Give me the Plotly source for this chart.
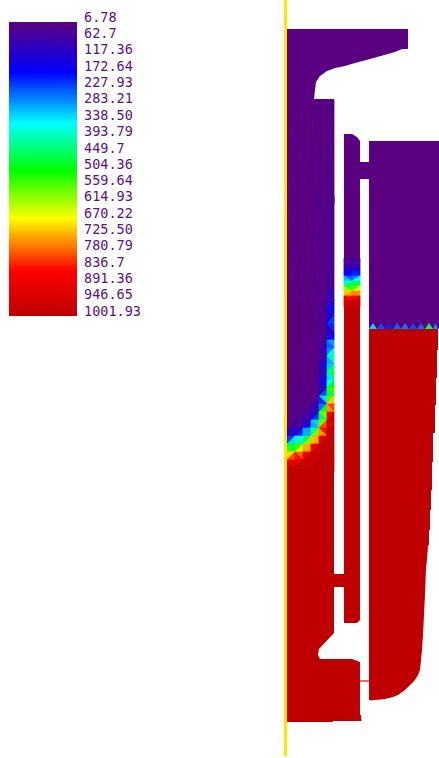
import plotly.graph_objects as go

# Legend
legend_values = [6.78, 62.7, 117.36, 172.64, 227.93, 283.21, 338.50, 393.79, 449.7, 504.36,
                 559.64, 614.93, 670.22, 725.50, 780.79, 836.7, 891.36, 946.65, 1001.93]
legend_labels = ["6.78", "62.7", "117.36", "172.64", "227.93", "283.21", "338.50", "393.79", "449.7", "504.36",
                 "559.64", "614.93", "670.22", "725.50", "780.79", "836.7", "891.36", "946.65", "1001.93"]
scale_stops = [(0.0, (90, 0, 128)), (0.17, (0, 0, 255)), (0.344, (0, 255, 255)), (0.503, (0, 255, 0)),
               (0.667, (255, 255, 0)), (0.844, (255, 0, 0)), (1.0, (190, 0, 0))]

# Geometry outlines (image pixel data space)
left_top_x = [287, 408, 408, 402, 395, 385, 370, 355, 345, 335, 327, 320, 316, 315, 314, 334, 334, 287]
left_top_y = [29, 29, 49, 49, 52, 55, 59, 63, 66, 68, 71, 76, 82, 90, 99, 99, 110, 110]
left_bot_x = [287, 334, 334, 344, 344, 334, 334, 319, 318, 320, 352, 360, 360, 361, 361.5, 333, 333, 287]
left_bot_y = [470, 470, 574, 574, 587, 587, 633, 649, 655, 659, 659, 662, 715, 715, 721, 721, 722, 722]
mid_top_x = [344, 352, 357, 360, 360, 344]
mid_top_y = [134, 134, 137, 141, 260, 260]
mid_bot_x = [344, 360, 360, 357, 344]
mid_bot_y = [305, 305, 620, 623, 623]
right_top_x = [369, 439, 439, 369, 369, 360, 360, 369]
right_top_y = [141, 141, 329, 329, 179, 179, 162, 162]
right_bot_x = [369, 438, 438, 437, 437, 436, 436, 435, 435, 433, 433, 432, 432, 431, 431, 430, 430, 429, 429, 428, 427,
               426, 425, 424, 423, 422, 421, 420, 418, 415, 410, 405, 398, 393, 385, 378, 370, 370, 369]
right_bot_y = [329, 329, 350, 350, 378, 378, 405, 405, 433, 433, 462, 462, 490, 490, 510, 510, 530, 530, 545, 545, 560,
               568, 595, 622, 635, 650, 660, 670, 675, 680, 685, 690, 695, 697, 699, 700, 700.5, 700, 700]
link_x = [360, 369]
link_y = [681, 681]
axis_x = [285.5, 285.5]
axis_y = [0, 756]

# Temperature field near the fronts
left_cols = [287, 295, 303, 311, 319, 327, 334]
left_rows = [100, 200, 290, 300, 308, 316, 324, 332, 340, 348, 356, 364, 372, 380, 388, 396, 404, 412, 420,
             428, 436, 444, 452, 460, 466, 472]
left_field = [
    [7, 7, 7, 7, 8, 10, 10],
    [7, 7, 7, 8, 12, 18, 28],
    [8, 8, 9, 10, 14, 24, 70],
    [8, 8, 9, 10, 14, 30, 150],
    [8, 8, 9, 10, 14, 40, 230],
    [8, 8, 9, 10, 14, 40, 280],
    [8, 8, 9, 10, 14, 40, 330],
    [8, 8, 9, 10, 14, 40, 240],
    [8, 8, 9, 10, 14, 60, 220],
    [8, 8, 9, 10, 15, 110, 560],
    [8, 8, 9, 10, 15, 120, 470],
    [9, 9, 10, 10, 16, 150, 610],
    [9, 9, 10, 11, 16, 170, 580],
    [9, 9, 10, 11, 17, 180, 620],
    [10, 10, 11, 12, 18, 240, 660],
    [10, 11, 12, 13, 20, 420, 720],
    [12, 13, 14, 15, 50, 540, 860],
    [14, 15, 16, 30, 170, 690, 1000],
    [15, 20, 25, 110, 330, 880, 1000],
    [25, 40, 90, 270, 510, 1000, 1000],
    [120, 200, 290, 500, 720, 1000, 1000],
    [330, 430, 540, 700, 950, 1000, 1000],
    [620, 660, 720, 930, 1000, 1000, 1000],
    [820, 900, 950, 1000, 1000, 1000, 1000],
    [960, 1000, 1000, 1000, 1000, 1000, 1000],
    [1000, 1000, 1000, 1000, 1000, 1000, 1000],
]
mid_cols = [344, 352, 360]
mid_rows = [258, 265, 271, 276, 281, 286, 291, 296, 301, 307]
mid_field = [
    [15, 20, 20],
    [60, 50, 70],
    [140, 110, 170],
    [240, 180, 300],
    [360, 300, 450],
    [520, 450, 600],
    [680, 620, 740],
    [820, 760, 880],
    [960, 930, 990],
    [1000, 1000, 1000],
]
saw_x = [369, 377, 385, 393, 401, 409, 417, 425, 433, 438]
saw_values = [320, 230, 200, 250, 260, 230, 250, 450, 280]

YELLOW = "#ffe600"
PURPLE = "rgb(90,0,128)"
RED = "rgb(190,0,0)"
TEXT = "#5a1080"


def value_colour(v):
    t = (v - legend_values[0]) / (legend_values[-1] - legend_values[0])
    t = max(0.0, min(1.0, t))
    for (a, ca), (b, cb) in zip(scale_stops, scale_stops[1:]):
        if t <= b:
            f = (t - a) / (b - a)
            return "rgb(%d,%d,%d)" % tuple(round(p + (q - p) * f) for p, q in zip(ca, cb))
    return RED


def poly(xs, ys, colour, edge=0.0):
    return go.Scatter(x=list(xs) + [xs[0]], y=list(ys) + [ys[0]], mode="lines", fill="toself", fillcolor=colour,
                      line=dict(color=colour, width=edge), hoverinfo="skip", showlegend=False)


fig = go.Figure()
fig.add_trace(poly(left_top_x, left_top_y, PURPLE))
fig.add_trace(poly(left_bot_x, left_bot_y, RED))
fig.add_trace(poly(mid_top_x, mid_top_y, PURPLE))
fig.add_trace(poly(mid_bot_x, mid_bot_y, RED))
fig.add_trace(poly(right_top_x, right_top_y, PURPLE))
fig.add_trace(poly(right_bot_x, right_bot_y, RED))


def add_field(cols, rows, field):
    for r in range(len(rows) - 1):
        for c in range(len(cols) - 1):
            x0, x1, y0, y1 = cols[c], cols[c + 1], rows[r], rows[r + 1]
            a, b, d, e = field[r][c], field[r][c + 1], field[r + 1][c], field[r + 1][c + 1]
            if (r + c) % 2 == 0:
                tris = [([x0, x1, x0], [y0, y0, y1], (a + b + d) / 3), ([x1, x1, x0], [y0, y1, y1], (b + e + d) / 3)]
            else:
                tris = [([x0, x1, x1], [y0, y0, y1], (a + b + e) / 3), ([x0, x1, x0], [y0, y1, y1], (a + e + d) / 3)]
            for xs, ys, v in tris:
                fig.add_trace(poly(xs, ys, value_colour(v), 0.8))


add_field(left_cols, left_rows, left_field)
add_field(mid_cols, mid_rows, mid_field)
for i, v in enumerate(saw_values):
    xa, xb = saw_x[i], saw_x[i + 1]
    fig.add_trace(poly([xa, xb, (xa + xb) / 2], [329, 329, 323], value_colour(v)))

fig.add_trace(go.Scatter(x=link_x, y=link_y, mode="lines", line=dict(color="#c8404a", width=1.5),
                         hoverinfo="skip", showlegend=False))
fig.add_trace(go.Scatter(x=axis_x, y=axis_y, mode="lines", line=dict(color=YELLOW, width=3),
                         hoverinfo="skip", showlegend=False))

# Colour legend
fig.add_trace(go.Heatmap(x=[0, 1], y=legend_values, z=[[v, v] for v in legend_values], zsmooth="best",
                         zmin=legend_values[0], zmax=legend_values[-1],
                         colorscale=[[s, "rgb(%d,%d,%d)" % c] for s, c in scale_stops],
                         showscale=False, hoverinfo="skip", xaxis="x2", yaxis="y2"))

W, H = 439, 758
fig.update_layout(
    width=W, height=H, margin=dict(l=0, r=0, t=0, b=0, pad=0, autoexpand=False), paper_bgcolor="white",
    plot_bgcolor="white", showlegend=False,
    xaxis=dict(range=[0, W], visible=False, domain=[0, 1], automargin=False),
    yaxis=dict(range=[H, 0], visible=False, domain=[0, 1], automargin=False),
    xaxis2=dict(domain=[9 / W, 77 / W], range=[0, 1], visible=False, anchor="y2", automargin=False),
    yaxis2=dict(domain=[1 - 316 / H, 1 - 22 / H], range=[legend_values[-1], legend_values[0]], anchor="x2",
                side="right", showgrid=False, zeroline=False, showline=False, ticks="", automargin=False,
                tickmode="array", tickvals=legend_values, ticktext=legend_labels,
                ticklabelstandoff=6, ticklabelshift=5,
                tickfont=dict(family="DejaVu Sans Mono", size=13.5, color=TEXT)),
)
fig.write_html("out.html", config={"displayModeBar": False}, post_script="document.body.style.margin='0';")
